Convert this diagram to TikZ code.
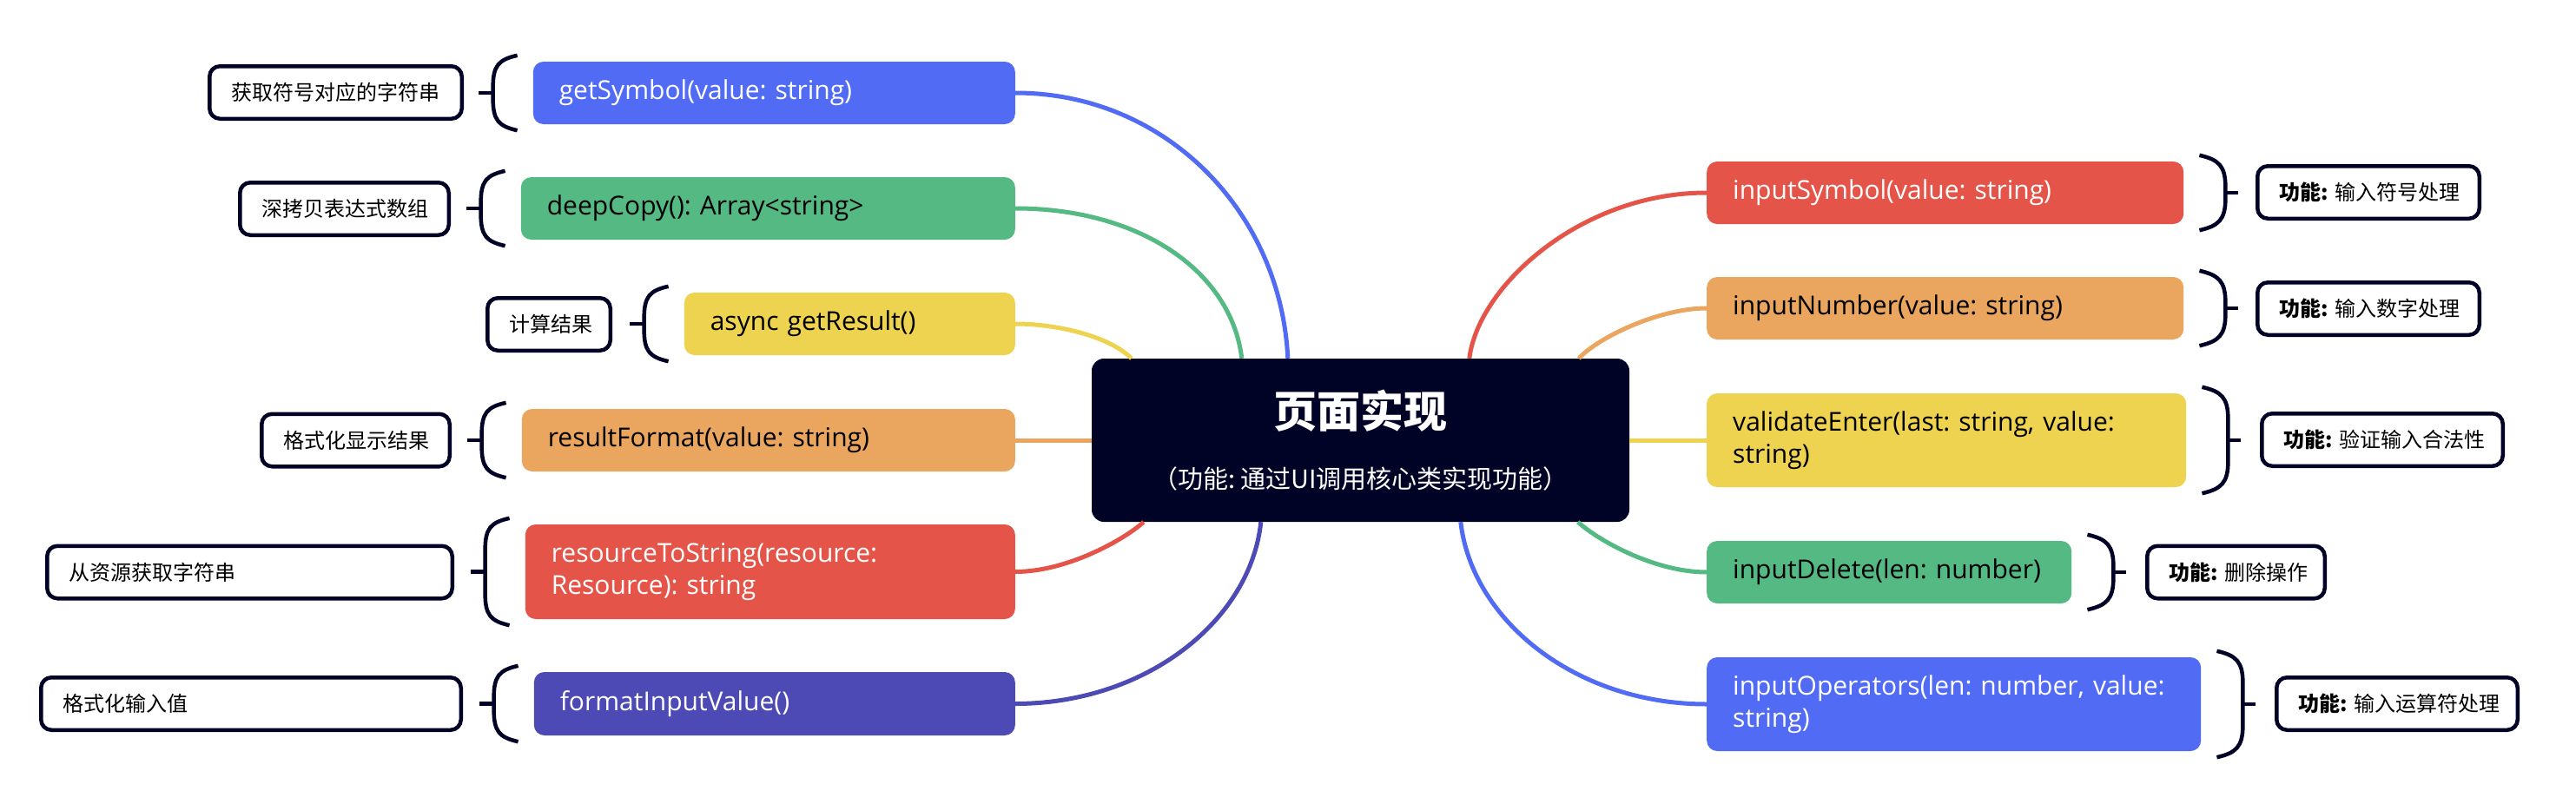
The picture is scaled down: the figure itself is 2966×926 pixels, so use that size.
\documentclass[tikz,border=0pt]{standalone}
\usepackage{fontspec}
\setmainfont{Open Sans}
\newfontfamily\cjk{Noto Sans CJK SC}
\usetikzlibrary{calc}
\frenchspacing
\definecolor{cblue}{RGB}{81,107,245}
\definecolor{cgreen}{RGB}{84,185,130}
\definecolor{cyellow}{RGB}{237,211,80}
\definecolor{corange}{RGB}{234,165,95}
\definecolor{cred}{RGB}{229,84,72}
\definecolor{cindigo}{RGB}{77,74,181}
\definecolor{navy}{RGB}{0,3,38}
\tikzset{
  fn/.style={rounded corners=12pt, inner xsep=30pt, inner ysep=0pt, align=left,
    font=\frenchspacing\fontsize{30}{37}\selectfont, minimum height=72pt},
  lb/.style={draw=navy, line width=4.5pt, fill=white, rounded corners=12pt,
    inner xsep=25pt, inner ysep=0pt, align=left, anchor=west,
    font=\cjk\fontsize{24}{30}\selectfont, minimum height=60.5pt},
  conn/.style={line width=5pt},
  br/.style={draw=navy, line width=4.5pt},
  hub/.style={fill=navy, rounded corners=14pt, minimum width=619pt, minimum height=188pt,
    inner sep=0pt, align=center, text=white, font=\cjk},
}
\newcommand{\brL}[1]{%
  \draw[br] ($(#1.north west)+(-18,-7)$) .. controls +(-22,5) and +(0,-25) .. ($(#1.north west)+(-46,30)$)
     -- ($(#1.south west)+(-46,-30)$) .. controls +(0,25) and +(-22,-5) .. ($(#1.south west)+(-18,7)$);
  \draw[br] ($(#1.west)+(-46,0)$) -- ++(-17,0);
}
\newcommand{\brR}[1]{%
  \draw[br] ($(#1.north east)+(18,-7)$) .. controls +(22,5) and +(0,-25) .. ($(#1.north east)+(48,30)$)
     -- ($(#1.south east)+(48,-30)$) .. controls +(0,25) and +(22,-5) .. ($(#1.south east)+(18,7)$);
  \draw[br] ($(#1.east)+(48,0)$) -- ++(15,0);
}
\begin{document}
\begin{tikzpicture}[x=1pt,y=-1pt]
\fill[white] (0,0) rectangle (2966,926);
\useasboundingbox (0,0) rectangle (2966,926);

% hub
\node[hub] (c) at (1566.5,507) {{\fontsize{50}{60}\selectfont\bfseries 页面实现}\\[40pt]{\fontsize{29}{35}\selectfont （功能: 通过UI调用核心类实现功能）}};

% left function boxes
\node[fn, anchor=east, fill=cblue, text=white, text width=495pt] (f1) at (1169,107) {getSymbol(value: string)};
\node[fn, anchor=east, fill=cgreen, text=black, text width=509pt] (f2) at (1169,240) {deepCopy(): Array<string>};
\node[fn, anchor=east, fill=cyellow, text=black, text width=321pt] (f3) at (1169,373) {async getResult()};
\node[fn, anchor=east, fill=corange, text=black, text width=508pt] (f4) at (1169,507) {resultFormat(value: string)};
\node[fn, anchor=east, fill=cred, text=white, text width=504pt, minimum height=109pt] (f5) at (1169,658.5) {resourceToString(resource:\\Resource): string};
\node[fn, anchor=east, fill=cindigo, text=white, text width=494pt, minimum height=73pt] (f6) at (1169,810.5) {formatInputValue()};

% right function boxes
\node[fn, anchor=west, fill=cred, text=white, text width=489pt] (g1) at (1965,222) {inputSymbol(value: string)};
\node[fn, anchor=west, fill=corange, text=black, text width=489pt] (g2) at (1965,355) {inputNumber(value: string)};
\node[fn, anchor=west, fill=cyellow, text=black, text width=492pt, minimum height=108pt] (g3) at (1965,507) {validateEnter(last: string, value:\\string)};
\node[fn, anchor=west, fill=cgreen, text=black, text width=360pt] (g4) at (1965,659) {inputDelete(len: number)};
\node[fn, anchor=west, fill=cblue, text=white, text width=509pt, minimum height=108pt] (g5) at (1965,811) {inputOperators(len: number, value:\\string)};

% left labels
\node[lb, text width=240.5pt] (l1) at (239,106.5) {获取符号对应的字符串};
\node[lb, text width=190.5pt] (l2) at (274,240.5) {深拷贝表达式数组};
\node[lb, text width=91.5pt] (l3) at (559,373.5) {计算结果};
\node[lb, text width=166.5pt] (l4) at (299,507) {格式化显示结果};
\node[lb, text width=416.5pt] (l5) at (52,659) {从资源获取字符串};
\node[lb, text width=433.5pt] (l6) at (45,810.5) {格式化输入值};

% right labels
\node[lb, text width=205.5pt] (r1) at (2597,221.5) {\mbox{\textbf{功能:} 输入符号处理}};
\node[lb, text width=205.5pt] (r2) at (2597,355.5) {\mbox{\textbf{功能:} 输入数字处理}};
\node[lb, text width=227.5pt] (r3) at (2602,506.5) {\mbox{\textbf{功能:} 验证输入合法性}};
\node[lb, text width=154.5pt] (r4) at (2470,659) {\mbox{\textbf{功能:} 删除操作}};
\node[lb, text width=227.5pt] (r5) at (2619,810.5) {\mbox{\textbf{功能:} 输入运算符处理}};

% braces
\brL{f1}\brL{f2}\brL{f3}\brL{f4}\brL{f5}\brL{f6}
\brR{g1}\brR{g2}\brR{g3}\brR{g4}\brR{g5}

% connectors
\draw[conn, cblue] ($(c.north west)+(226,0)$) .. controls +(-8,-169) and +(173,0) .. (f1.east);
\draw[conn, cgreen] ($(c.north west)+(173,0)$) .. controls +(-12,-100) and +(144,0) .. (f2.east);
\draw[conn, cyellow] ($(c.north west)+(46,0)$) .. controls +(-25,-25) and +(50,0) .. (f3.east);
\draw[conn, corange] (c.west) -- (f4.east);
\draw[conn, cred] ($(c.south west)+(60,0)$) .. controls +(-22,20) and +(60,0) .. (f5.east);
\draw[conn, cindigo] ($(c.south west)+(195,0)$) .. controls +(-12,114) and +(150,0) .. (f6.east);

\draw[conn, cred] ($(c.north west)+(435,0)$) .. controls +(10,-83) and +(-145,0) .. (g1.west);
\draw[conn, corange] ($(c.north west)+(561,0)$) .. controls +(22,-24) and +(-55,0) .. (g2.west);
\draw[conn, cyellow] (c.east) -- (g3.west);
\draw[conn, cgreen] ($(c.south west)+(560,0)$) .. controls +(23,21) and +(-60,0) .. (g4.west);
\draw[conn, cblue] ($(c.south west)+(425,0)$) .. controls +(13,114) and +(-150,0) .. (g5.west);
\end{tikzpicture}
\end{document}
